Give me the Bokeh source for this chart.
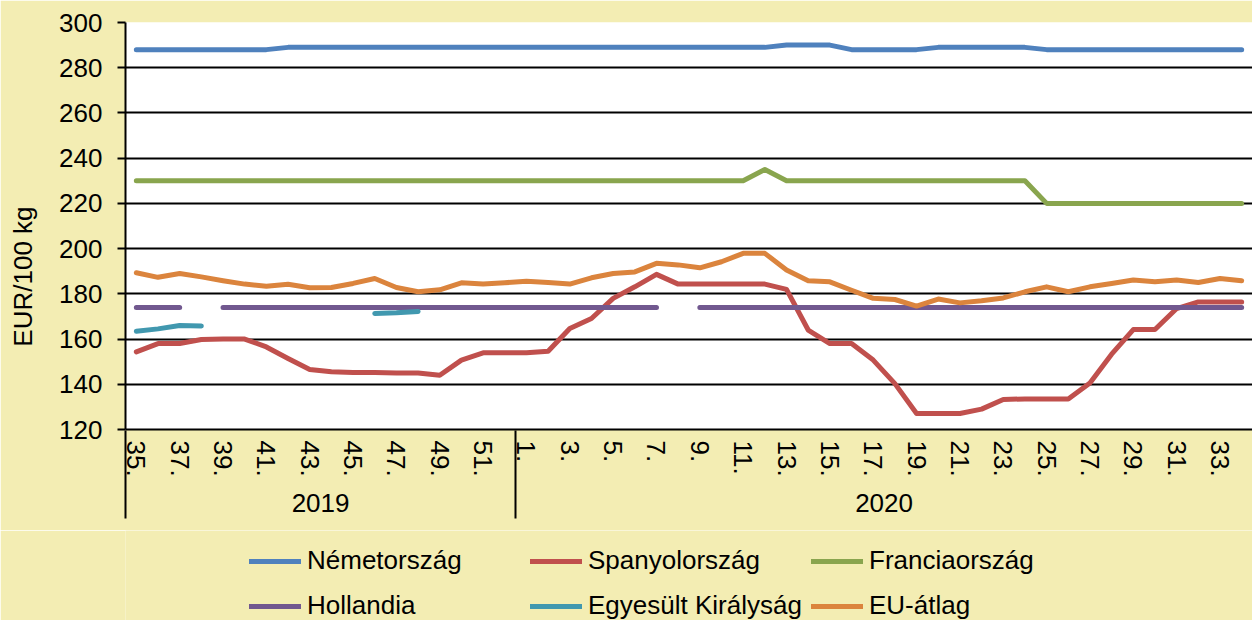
from bokeh.plotting import figure
from bokeh.layouts import column
from bokeh.models import FixedTicker, LinearAxis, Legend, LegendItem, Range1d
from bokeh.embed import file_html
from bokeh.resources import INLINE

nan = float("nan")

# ---- data -------------------------------------------------------------
weeks = ["35.", "36.", "37.", "38.", "39.", "40.", "41.", "42.", "43.", "44.",
         "45.", "46.", "47.", "48.", "49.", "50.", "51.", "52.",
         "1.", "2.", "3.", "4.", "5.", "6.", "7.", "8.", "9.", "10.",
         "11.", "12.", "13.", "14.", "15.", "16.", "17.", "18.", "19.", "20.",
         "21.", "22.", "23.", "24.", "25.", "26.", "27.", "28.", "29.", "30.",
         "31.", "32.", "33.", "34."]
years = ["2019", "2020"]
year_sizes = [18, 34]

nemetorszag = [288, 288, 288, 288, 288, 288, 288, 289, 289, 289,
               289, 289, 289, 289, 289, 289, 289, 289,
               289, 289, 289, 289, 289, 289, 289, 289, 289, 289,
               289, 289, 290, 290, 290, 288, 288, 288, 288, 289,
               289, 289, 289, 289, 288, 288, 288, 288, 288, 288,
               288, 288, 288, 288]
spanyolorszag = [154.3, 158.0, 158.0, 159.8, 160.0, 160.0, 156.5, 151.4, 146.5, 145.5,
                 145.2, 145.2, 145.0, 145.0, 144.0, 150.7, 153.9, 153.9,
                 153.9, 154.6, 164.7, 169.1, 178.0, 183.1, 188.6, 184.3, 184.3, 184.3,
                 184.3, 184.3, 182.0, 164.0, 158.0, 158.0, 150.7, 140.3, 127.1, 127.1,
                 127.1, 129.0, 133.3, 133.5, 133.5, 133.5, 140.6, 153.3, 164.2, 164.2,
                 173.5, 176.4, 176.4, 176.4]
franciaorszag = [230, 230, 230, 230, 230, 230, 230, 230, 230, 230,
                 230, 230, 230, 230, 230, 230, 230, 230,
                 230, 230, 230, 230, 230, 230, 230, 230, 230, 230,
                 230, 235, 230, 230, 230, 230, 230, 230, 230, 230,
                 230, 230, 230, 230, 220, 220, 220, 220, 220, 220,
                 220, 220, 220, 220]
hollandia = [174, 174, 174, nan, 174, 174, 174, 174, 174, 174,
             174, 174, 174, 174, 174, 174, 174, 174,
             174, 174, 174, 174, 174, 174, 174, nan, 174, 174,
             174, 174, 174, 174, 174, 174, 174, 174, 174, 174,
             174, 174, 174, 174, 174, 174, 174, 174, 174, 174,
             174, 174, 174, 174]
egyesult_kiralysag = [163.5, 164.5, 166.0, 165.8, nan, nan, nan, nan, nan, nan,
                      nan, 171.3, 171.6, 172.2, nan, nan, nan, nan,
                      nan, nan, nan, nan, nan, nan, nan, nan, nan, nan,
                      nan, nan, nan, nan, nan, nan, nan, nan, nan, nan,
                      nan, nan, nan, nan, nan, nan, nan, nan, nan, nan,
                      nan, nan, nan, nan]
eu_atlag = [189.3, 187.3, 189.0, 187.5, 185.8, 184.3, 183.4, 184.2, 182.7, 182.8,
            184.6, 186.8, 182.8, 180.9, 181.8, 184.9, 184.3, 184.9,
            185.6, 185.0, 184.3, 187.1, 189.0, 189.7, 193.5, 192.8, 191.5, 194.2,
            197.9, 197.9, 190.5, 185.8, 185.3, 181.6, 178.0, 177.5, 174.6, 177.7,
            176.0, 176.9, 178.2, 180.9, 183.1, 180.9, 183.1, 184.6, 186.1, 185.3,
            186.1, 185.0, 186.8, 185.8]

series = [
    ("Németország", nemetorszag, "#4F81BD"),
    ("Spanyolország", spanyolorszag, "#C0504D"),
    ("Franciaország", franciaorszag, "#89A54E"),
    ("Hollandia", hollandia, "#71588F"),
    ("Egyesült Királyság", egyesult_kiralysag, "#4198AF"),
    ("EU-átlag", eu_atlag, "#DB843D"),
]
legend_rows = [["Németország", "Spanyolország", "Franciaország"],
               ["Hollandia", "Egyesült Királyság", "EU-átlag"]]

y_ticks = [120, 140, 160, 180, 200, 220, 240, 260, 280, 300]
y_title = "EUR/100 kg"

# ---- main chart -------------------------------------------------------
BG = "#F3EDB3"
FONT = "Liberation Sans"
FS = "26px"
W = 1252
H_CHART = 530
H_LEGEND = 90
n = len(weeks)
x = list(range(n))

p = figure(width=W, height=H_CHART, output_backend="svg", toolbar_location=None,
           x_range=Range1d(-0.5, n - 0.5), y_range=Range1d(120, 300),
           min_border_left=125, min_border_right=0, min_border_top=22,
           min_border_bottom=101)
p.border_fill_color = BG
p.background_fill_color = "white"
p.outline_line_color = None

# y axis
p.yaxis.ticker = FixedTicker(ticks=y_ticks)
p.yaxis.axis_line_color = "black"
p.yaxis.axis_line_width = 2
p.yaxis.major_tick_line_color = "black"
p.yaxis.major_tick_line_width = 2
p.yaxis.major_tick_out = 8
p.yaxis.major_tick_in = 0
p.yaxis.minor_tick_line_color = None
p.yaxis.major_label_standoff = 15
p.yaxis.major_label_text_font = FONT
p.yaxis.major_label_text_font_size = FS
p.yaxis.major_label_text_color = "black"
# the title sits a little below the frame centre in the reference
p.yaxis.axis_label = y_title + "\u00a0" * 14
p.yaxis.axis_label_text_font = FONT
p.yaxis.axis_label_text_font_size = FS
p.yaxis.axis_label_text_font_style = "normal"
p.yaxis.axis_label_text_color = "black"
p.yaxis.axis_label_standoff = 18

p.ygrid.ticker = FixedTicker(ticks=y_ticks)
p.ygrid.grid_line_color = "black"
p.ygrid.grid_line_width = 2
p.xgrid.grid_line_color = None

# x axis: week labels (every second week)
tick_pos = [i for i in x if i % 2 == 0]
p.xaxis.ticker = FixedTicker(ticks=tick_pos)
p.xaxis.major_label_overrides = {i: weeks[i] for i in tick_pos}
p.xaxis.major_label_orientation = "vertical"
p.xaxis.axis_line_color = "black"
p.xaxis.axis_line_width = 2
p.xaxis.major_tick_line_color = None
p.xaxis.minor_tick_line_color = None
p.xaxis.major_tick_out = 0
p.xaxis.major_tick_in = 0
p.xaxis.major_label_standoff = 11
p.xaxis.major_label_text_font = FONT
p.xaxis.major_label_text_font_size = FS
p.xaxis.major_label_text_color = "black"

# second level: years with separators
bounds = [-0.5]
for s in year_sizes:
    bounds.append(bounds[-1] + s)
centers = [(bounds[k] + bounds[k + 1]) / 2 for k in range(len(years))]
year_axis = LinearAxis(
    ticker=FixedTicker(ticks=centers, minor_ticks=bounds[:-1]),
    major_label_overrides={c: y for c, y in zip(centers, years)},
    axis_line_color=None,
    major_tick_line_color=None,
    minor_tick_line_color="black",
    minor_tick_line_width=2,
    minor_tick_in=49,
    minor_tick_out=39,
    major_label_standoff=-25,
    major_label_text_font=FONT,
    major_label_text_font_size=FS,
    major_label_text_color="black",
)
p.add_layout(year_axis, "below")

for name, vals, col in series:
    p.line(x, vals, line_color=col, line_width=5, line_cap="round", line_join="round")

# ---- legend strip -----------------------------------------------------
pl = figure(width=W, height=H_LEGEND, output_backend="svg", toolbar_location=None,
            x_axis_location=None, y_axis_location=None,
            x_range=Range1d(-1000, -999), y_range=Range1d(0, 1),
            min_border_left=125, min_border_right=0, min_border_top=0, min_border_bottom=0)
pl.border_fill_color = BG
pl.background_fill_color = BG
pl.outline_line_color = None
pl.grid.grid_line_color = None

# the same series, drawn outside the visible range, only to supply legend glyphs
legend_renderers = {}
for name, vals, col in series:
    legend_renderers[name] = pl.line(x, vals, line_color=col, line_width=5,
                                     line_cap="round", line_join="round")

# location = bottom-left corner of each legend row, relative to the strip's frame
for row, ybottom in zip(legend_rows, [44, -1]):
    lg = Legend(items=[LegendItem(label=nm, renderers=[legend_renderers[nm]]) for nm in row],
                location=(124, ybottom), orientation="horizontal",
                background_fill_alpha=0, border_line_color=None,
                padding=0, margin=0, spacing=9,
                glyph_width=52, glyph_height=30, label_height=30, label_width=214,
                label_standoff=6, label_text_font=FONT,
                label_text_font_size=FS, label_text_color="black")
    pl.add_layout(lg, "center")

layout = column(p, pl, spacing=0)
open("out.html", "w").write(file_html(layout, INLINE))
